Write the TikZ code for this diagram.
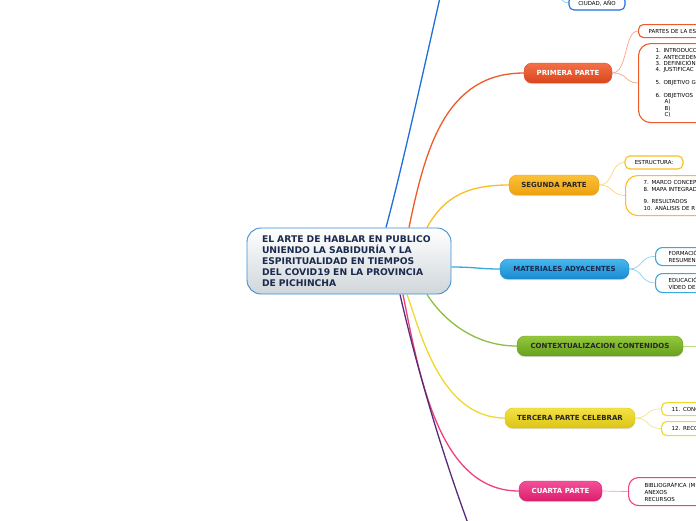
\documentclass[tikz,border=0pt]{standalone}
\usepackage{fontspec}
\setmainfont{DejaVu Sans}
\usetikzlibrary{shadows,backgrounds}
\definecolor{cborder}{HTML}{3A8FD9}
\definecolor{cbot}{HTML}{D0D6DA}
\definecolor{navy}{HTML}{1B2A4E}
\definecolor{lblue}{HTML}{1E6FD9}
\definecolor{orA}{HTML}{F37048}\definecolor{orB}{HTML}{D9461C}\definecolor{orL}{HTML}{F05A28}\definecolor{orC}{HTML}{F7A585}
\definecolor{amA}{HTML}{FBC13A}\definecolor{amB}{HTML}{EDA10D}\definecolor{amL}{HTML}{FBBD22}\definecolor{amC}{HTML}{FCD57A}
\definecolor{blA}{HTML}{46B8EE}\definecolor{blB}{HTML}{1A8AD0}\definecolor{blL}{HTML}{3AA7E0}\definecolor{blC}{HTML}{8DD0F2}
\definecolor{grA}{HTML}{94C83C}\definecolor{grB}{HTML}{66A01E}\definecolor{grL}{HTML}{8CBF3F}\definecolor{grC}{HTML}{B8DB84}
\definecolor{yeA}{HTML}{F4E244}\definecolor{yeB}{HTML}{DCC414}\definecolor{yeL}{HTML}{EED82A}\definecolor{yeC}{HTML}{F0E48A}
\definecolor{piA}{HTML}{F4509A}\definecolor{piB}{HTML}{DC1E6C}\definecolor{piL}{HTML}{F0407E}\definecolor{piC}{HTML}{F59ABF}
\definecolor{puL}{HTML}{5A2A7A}
\tikzset{
  branch/.style={rounded corners=8pt, minimum height=20pt, inner sep=0pt,
    font=\fontsize{7}{8}\selectfont\bfseries, line width=0.4pt,
    drop shadow={opacity=0.25, shadow xshift=0pt, shadow yshift=-1.2pt}},
  childbox/.style={draw, fill=white, line width=1.1pt, rounded corners=5pt,
    anchor=north west, align=left, text width=110pt, inner ysep=0pt,
    font=\fontsize{5.5}{6.4}\selectfont},
  mainline/.style={line width=1.3pt},
  subline/.style={line width=0.7pt}
}
\begin{document}
\begin{tikzpicture}[x=1pt,y=-1pt]
\useasboundingbox (0,0) rectangle (696,520);
\clip (0,0) rectangle (696,520);

% central node
\node[draw=cborder, line width=0.9pt, rounded corners=14pt, top color=white, bottom color=cbot,
  minimum width=204pt, minimum height=66pt, inner xsep=15pt, text width=174pt, align=left,
  text=navy, font=\fontsize{9.2}{11}\selectfont\bfseries] (c) at (349,261)
  {EL ARTE DE HABLAR EN PUBLICO\\UNIENDO LA SABIDURÍA Y LA\\ESPIRITUALIDAD EN TIEMPOS\\DEL COVID19 EN LA PROVINCIA\\DE PICHINCHA};

% branch nodes
\node[branch, draw=orB, top color=orA, bottom color=orB, text=white, minimum width=88pt] (p1) at (568,73) {PRIMERA PARTE};
\node[branch, draw=amB, top color=amA, bottom color=amB, text=black!85, minimum width=90pt] (p2) at (554,185) {SEGUNDA PARTE};
\node[branch, draw=blB, top color=blA, bottom color=blB, text=navy, minimum width=129pt] (ma) at (564.5,269) {MATERIALES ADYACENTES};
\node[branch, draw=grB, top color=grA, bottom color=grB, text=black!85, minimum width=166pt] (ct) at (600,346) {CONTEXTUALIZACION CONTENIDOS};
\node[branch, draw=yeB, top color=yeA, bottom color=yeB, text=black!85, minimum width=130pt] (p3) at (570,418) {TERCERA PARTE CELEBRAR};
\node[branch, draw=piB, top color=piA, bottom color=piB, text=white, minimum width=83pt] (p4) at (560.5,491) {CUARTA PARTE};

% top blue child visible
\node[draw=lblue, fill=white, line width=1.1pt, rounded corners=5pt, minimum width=56pt, minimum height=14pt,
  inner sep=0pt, font=\fontsize{5.5}{6.4}\selectfont] (ci) at (597,3) {CIUDAD, AÑO};

% children of PRIMERA
\node[childbox, draw=orL, minimum height=13pt, inner xsep=10pt] (p1a) at (638,24) {PARTES DE LA ES};
\node[childbox, draw=orL, minimum height=79pt, inner xsep=17pt, rounded corners=12pt] (p1b) at (638,43)
  {1. INTRODUCC\\2. ANTECEDEN\\3. DEFINICIÓN\\4. JUSTIFICAC\\[6.4pt]5. OBJETIVO G\\[6.4pt]6. OBJETIVOS\\\hspace*{9pt}A)\\\hspace*{9pt}B)\\\hspace*{9pt}C)};

% children of SEGUNDA
\node[draw=amL, fill=white, line width=1.1pt, rounded corners=5pt, minimum width=58pt, minimum height=13pt,
  inner sep=0pt, font=\fontsize{5.5}{6.4}\selectfont] (p2a) at (654,162.5) {ESTRUCTURA:};
\node[childbox, draw=amL, minimum height=40pt, inner xsep=18pt, rounded corners=12pt] (p2b) at (625,175)
  {7. MARCO CONCEPT\\8. MAPA INTEGRAD\\[6.4pt]9. RESULTADOS\\10. ANÁLISIS DE R};

% children of MATERIALES
\node[childbox, draw=blL, minimum height=18pt, inner xsep=13pt, rounded corners=7pt,
  font=\fontsize{5.5}{7}\selectfont] (maa) at (655,247) {FORMACIÓ\\RESUMEN};
\node[childbox, draw=blL, minimum height=19pt, inner xsep=13pt, rounded corners=7pt,
  font=\fontsize{5.5}{7}\selectfont] (mab) at (655,273) {EDUCACIÓ\\VÍDEO DE};

% children of TERCERA
\node[childbox, draw=yeL, minimum height=13pt, inner xsep=10pt] (p3a) at (661,402) {11. CONC};
\node[childbox, draw=yeL, minimum height=14pt, inner xsep=10pt] (p3b) at (661,421) {12. RECO};

% child of CUARTA
\node[childbox, draw=piL, minimum height=28pt, inner xsep=16pt, rounded corners=10pt,
  font=\fontsize{5.5}{7}\selectfont] (p4a) at (628,477) {BIBLIOGRÁFICA (M\\ANEXOS\\RECURSOS};

% off-screen endpoints
\coordinate (topend) at (444,-20);
\coordinate (botend) at (476,545);
\coordinate (ciparent) at (552,-8);
\coordinate (ctend) at (720,346);

\begin{scope}[on background layer]
  \draw[mainline, lblue] ([xshift=37pt]c.north) .. controls (404,160) and (428,50) .. (topend);
  \draw[mainline, orL] ([xshift=60pt]c.north) .. controls (425,150) and (445,73) .. (p1.west);
  \draw[mainline, amL] ([xshift=78pt]c.north) .. controls (445,195) and (470,185) .. (p2.west);
  \draw[mainline, blL] ([yshift=-6pt]c.east) .. controls (475,267) and (480,269) .. (ma.west);
  \draw[mainline, grL] ([xshift=78pt]c.south) .. controls (440,315) and (470,346) .. (ct.west);
  \draw[mainline, yeL] ([xshift=58pt]c.south) .. controls (420,330) and (440,418) .. (p3.west);
  \draw[mainline, piL] ([xshift=54pt]c.south) .. controls (420,380) and (440,491) .. (p4.west);
  \draw[mainline, puL] ([xshift=51pt]c.south) .. controls (415,360) and (440,450) .. (botend);

  \draw[subline, blC] (ciparent) .. controls (562,-2) and (562,3) .. (ci.west);
  \draw[subline, orC] (p1.east) .. controls (628,73) and (624,30.5) .. (p1a.west);
  \draw[subline, orC] (p1.east) .. controls (628,73) and (624,82.5) .. (p1b.west);
  \draw[subline, amC] (p2.east) .. controls (614,185) and (610,162.5) .. (p2a.west);
  \draw[subline, amC] (p2.east) .. controls (614,185) and (610,195) .. (p2b.west);
  \draw[subline, blC] (ma.east) .. controls (643,269) and (640,256) .. (maa.west);
  \draw[subline, blC] (ma.east) .. controls (643,269) and (640,282.5) .. (mab.west);
  \draw[subline, grC] (ct.east) -- (ctend);
  \draw[subline, yeC] (p3.east) .. controls (650,418) and (645,408.5) .. (p3a.west);
  \draw[subline, yeC] (p3.east) .. controls (650,418) and (645,428) .. (p3b.west);
  \draw[subline, piC] (p4.east) -- (p4a.west);
\end{scope}
\end{tikzpicture}
\end{document}
